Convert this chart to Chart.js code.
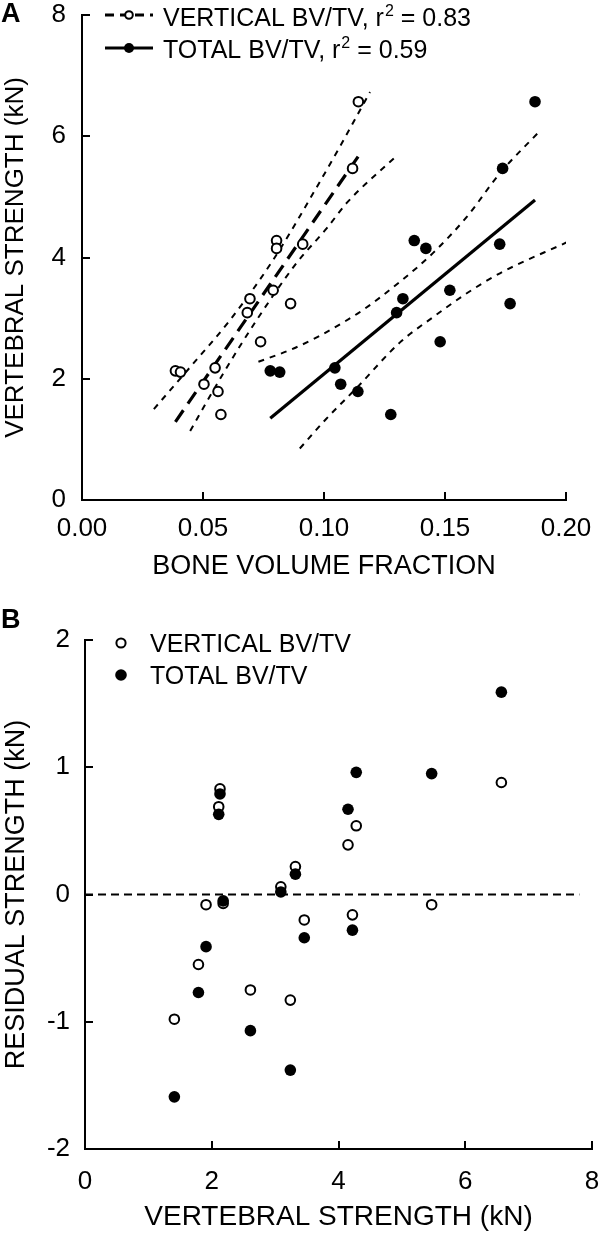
<!DOCTYPE html>
<html><head><meta charset="utf-8">
<script src="https://cdn.jsdelivr.net/npm/chart.js@4.4.1/dist/chart.umd.min.js"></script>
<style>
html,body{margin:0;padding:0;background:#fff;width:600px;height:1234px;overflow:hidden;}
.wrap{position:absolute;left:0;width:600px;}
#wa{top:0;height:600px;}
#wb{top:600px;height:634px;}
.panel{position:absolute;left:1px;font:bold 27px "Liberation Sans",Arial,sans-serif;color:#000;line-height:30px;}
</style></head><body>
<div class="wrap" id="wa"><canvas id="ca" width="600" height="600"></canvas></div>
<div class="wrap" id="wb"><canvas id="cb" width="600" height="634"></canvas></div>
<div class="panel" style="top:-2px">A</div>
<div class="panel" style="top:604px">B</div>
<script>
// ---------- DATA ----------
// Panel A: vertebral strength (kN) of each specimen
const strength      = [6.57, 5.47, 4.28, 4.15, 4.22, 3.46, 3.32, 3.09, 3.24, 2.61, 2.13, 2.11, 2.18, 1.91, 1.79, 1.41];
// bone volume fraction of each specimen
const verticalBVTV  = [0.1142, 0.1118, 0.0804, 0.0804, 0.0912, 0.0790, 0.0694, 0.0683, 0.0862, 0.0738, 0.0386, 0.0407, 0.0550, 0.0504, 0.0562, 0.0574];
const totalBVTV     = [0.1872, 0.1738, 0.1373, 0.1421, 0.1726, 0.1520, 0.1326, 0.1300, 0.1769, 0.1480, 0.0778, 0.0817, 0.1045, 0.1069, 0.1140, 0.1276];
// regression lines (end points)
const vertFitX  = [0.0386, 0.1142];
const vertFitY  = [1.29, 5.67];
const totalFitX = [0.0778, 0.1872];
const totalFitY = [1.35, 4.95];
// 95% confidence bands
const vertUpperX  = [0.0297, 0.0453, 0.0612, 0.0790, 0.0983, 0.1066, 0.1190];
const vertUpperY  = [1.50, 2.22, 2.97, 3.96, 5.25, 5.83, 6.73];
const vertLowerX  = [0.0447, 0.0584, 0.0722, 0.0887, 0.1011, 0.1094, 0.1298];
const vertLowerY  = [1.14, 2.09, 2.97, 3.91, 4.48, 4.90, 5.67];
const totalUpperX = [0.0729, 0.0863, 0.0974, 0.1084, 0.1163, 0.1314, 0.1452, 0.1590, 0.1727, 0.1895];
const totalUpperY = [2.28, 2.48, 2.69, 2.94, 3.14, 3.60, 4.08, 4.67, 5.39, 6.10];
const totalLowerX = [0.0900, 0.1005, 0.1140, 0.1314, 0.1452, 0.1590, 0.1727, 0.2003];
const totalLowerY = [0.85, 1.32, 1.87, 2.60, 3.02, 3.41, 3.74, 4.25];
// Panel B: residual strength (kN)
const residVertical = [0.88, -0.08, 0.54, 0.39, -0.16, -0.20, 0.22, 0.06, -0.83, -0.75, 0.83, 0.69, -0.07, -0.08, -0.55, -0.98];
const residTotal    = [1.59, 0.95, 0.96, 0.67, -0.28, -0.34, 0.16, 0.02, -1.38, -1.07, 0.79, 0.63, -0.05, -0.41, -0.77, -1.59];
const zeroLineX = [0, 7.8];
const zeroLineY = [0, 0];
// tick labels
const ticksAx = ['0.00', '0.05', '0.10', '0.15', '0.20'];
const ticksAy = ['0', '2', '4', '6', '8'];
const ticksBx = ['0', '2', '4', '6', '8'];
const ticksBy = ['-2', '-1', '0', '1', '2'];
// text
const legendA = [['VERTICAL BV/TV, r', '2', ' = 0.83'], ['TOTAL BV/TV, r', '2', ' = 0.59']];
const legendB = ['VERTICAL BV/TV', 'TOTAL BV/TV'];
const titleAx = 'BONE VOLUME FRACTION';
const titleAy = 'VERTEBRAL STRENGTH (kN)';
const titleBx = 'VERTEBRAL STRENGTH (kN)';
const titleBy = 'RESIDUAL STRENGTH (kN)';

// ---------- helpers ----------
const FONT = '"Liberation Sans", Arial, Helvetica, sans-serif';
const pts = (xs, ys) => xs.map((x, i) => ({x, y: ys[i]}));

const inwardTicks = {
  id: 'inwardTicks',
  afterDraw(chart) {
    const ctx = chart.ctx, a = chart.chartArea;
    ctx.save();
    ctx.strokeStyle = '#000'; ctx.lineWidth = 2;
    const xs = chart.scales.x, ys = chart.scales.y;
    xs.ticks.forEach(t => {
      const p = Math.round(xs.getPixelForValue(t.value));
      ctx.beginPath(); ctx.moveTo(p, a.bottom); ctx.lineTo(p, a.bottom - 8); ctx.stroke();
    });
    ys.ticks.forEach(t => {
      const p = Math.round(ys.getPixelForValue(t.value));
      ctx.beginPath(); ctx.moveTo(a.left, p); ctx.lineTo(a.left + 8, p); ctx.stroke();
    });
    ctx.restore();
  }
};

function circle(ctx, x, y, r, filled) {
  ctx.beginPath(); ctx.arc(x, y, r, 0, Math.PI * 2);
  if (filled) { ctx.fillStyle = '#000'; ctx.fill(); }
  else { ctx.fillStyle = '#fff'; ctx.fill(); ctx.lineWidth = 2; ctx.strokeStyle = '#000'; ctx.stroke(); }
}

const legendAPlugin = {
  id: 'legendA',
  afterDraw(chart) {
    const ctx = chart.ctx;
    ctx.save();
    const rows = [{y: 15, base: 26, dash: [9, 6], filled: false}, {y: 48, base: 58, dash: [], filled: true}];
    rows.forEach((r, i) => {
      ctx.strokeStyle = '#000'; ctx.lineWidth = 3; ctx.setLineDash(r.dash);
      ctx.beginPath(); ctx.moveTo(105, r.y); ctx.lineTo(153, r.y); ctx.stroke();
      ctx.setLineDash([]);
      circle(ctx, 129, r.y, r.filled ? 5 : 3.8, r.filled);
      ctx.fillStyle = '#000'; ctx.textBaseline = 'alphabetic'; ctx.textAlign = 'left';
      const [a, sup, b] = legendA[i];
      ctx.font = '25px ' + FONT;
      let x = 163;
      ctx.fillText(a, x, r.base); x += ctx.measureText(a).width + 1;
      ctx.font = '16px ' + FONT;
      ctx.fillText(sup, x, r.base - 10); x += ctx.measureText(sup).width;
      ctx.font = '25px ' + FONT;
      ctx.fillText(b, x, r.base);
    });
    ctx.restore();
  }
};

const legendBPlugin = {
  id: 'legendB',
  afterDraw(chart) {
    const ctx = chart.ctx;
    ctx.save();
    circle(ctx, 121, 43, 4.6, false);
    circle(ctx, 121, 75, 5.8, true);
    ctx.fillStyle = '#000'; ctx.font = '25px ' + FONT; ctx.textBaseline = 'alphabetic';
    ctx.fillText(legendB[0], 150, 52);
    ctx.fillText(legendB[1], 150, 84);
    ctx.restore();
  }
};

// label offset is done through an invisible tick length so that the
// scale does not add extra padding to the chart area
function axis(min, max, step, labels, title, titleSize, fit, isX, offset) {
  return {
    type: 'linear', min, max,
    ticks: {
      stepSize: step, color: '#000', padding: 0,
      font: {family: FONT, size: 26, lineHeight: 1.1},
      callback: (v, i) => labels[i]
    },
    grid: {display: false, drawTicks: true, tickLength: offset},
    border: {display: true, color: '#000', width: 2},
    title: {display: true, text: title, color: '#000', padding: 0, font: {family: FONT, size: titleSize}},
    afterFit: s => { if (isX) s.height = fit; else s.width = fit; }
  };
}

const common = {
  responsive: false, animation: false, devicePixelRatio: 1,
  plugins: {legend: {display: false}, tooltip: {enabled: false}},
  events: []
};

const openPt = {pointRadius: 4.8, pointBackgroundColor: '#fff', pointBorderColor: '#000', pointBorderWidth: 2};
const fillPt = {pointRadius: 5.8, pointBackgroundColor: '#000', pointBorderColor: '#000', pointBorderWidth: 0};
const band = {showLine: true, pointRadius: 0, borderColor: '#000', borderWidth: 2, borderDash: [6, 6], tension: 0.4, cubicInterpolationMode: 'monotone', order: 6};

// ---------- Chart A ----------
new Chart(document.getElementById('ca'), {
  type: 'scatter',
  data: {
    datasets: [
      Object.assign({data: pts(verticalBVTV, strength), order: 0}, openPt),
      Object.assign({data: pts(totalBVTV, strength), order: 1}, fillPt),
      {data: pts(vertFitX, vertFitY), showLine: true, pointRadius: 0, borderColor: '#000', borderWidth: 3.2, borderDash: [14, 8], order: 5},
      {data: pts(totalFitX, totalFitY), showLine: true, pointRadius: 0, borderColor: '#000', borderWidth: 3.2, order: 5},
      Object.assign({data: pts(vertUpperX, vertUpperY)}, band),
      Object.assign({data: pts(vertLowerX, vertLowerY)}, band),
      Object.assign({data: pts(totalUpperX, totalUpperY)}, band),
      Object.assign({data: pts(totalLowerX, totalLowerY)}, band)
    ]
  },
  options: Object.assign({}, common, {
    layout: {padding: {left: 0, top: 15, right: 34, bottom: 17}},
    scales: {
      x: axis(0, 0.2, 0.05, ticksAx, titleAx, 27, 83, true, 15),
      y: axis(0, 8, 2, ticksAy, titleAy, 26, 82, false, 16)
    }
  }),
  plugins: [inwardTicks, legendAPlugin]
});

// ---------- Chart B ----------
new Chart(document.getElementById('cb'), {
  type: 'scatter',
  data: {
    datasets: [
      Object.assign({data: pts(strength, residVertical), order: 1}, openPt),
      Object.assign({data: pts(strength, residTotal), order: 0}, fillPt),
      {data: pts(zeroLineX, zeroLineY), showLine: true, pointRadius: 0, borderColor: '#000', borderWidth: 2, borderDash: [8, 5], order: 5}
    ]
  },
  options: Object.assign({}, common, {
    layout: {padding: {left: 0, top: 40, right: 8, bottom: 0}},
    scales: {
      x: axis(0, 8, 2, ticksBx, titleBx, 28, 85, true, 19),
      y: axis(-2, 2, 1, ticksBy, titleBy, 27, 85, false, 15)
    }
  }),
  plugins: [inwardTicks, legendBPlugin]
});
</script>
</body></html>
